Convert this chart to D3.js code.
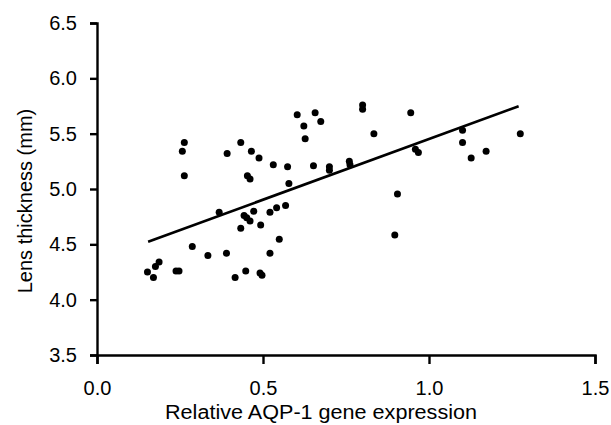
<!DOCTYPE html>
<html>
<head>
<meta charset="utf-8">
<script src="https://cdn.jsdelivr.net/npm/d3@7"></script>
<style>
  body { margin: 0; background: #fff; }
  svg { display: block; }
  .axis text { font-family: "Liberation Sans", Arial, sans-serif; font-size: 20px; fill: #000; }
  .axis path, .axis line { stroke: #000; stroke-width: 2.4px; }
  .label { font-family: "Liberation Sans", Arial, sans-serif; font-size: 20px; fill: #000; }
</style>
</head>
<body>
<svg id="chart" width="611" height="425"></svg>
<script>
// AQP-1 expression (x) vs lens thickness in mm (y)
const expression = [0.152, 0.170, 0.176, 0.187, 0.238, 0.247, 0.257, 0.263, 0.263, 0.287,
  0.334, 0.368, 0.390, 0.392, 0.416, 0.433, 0.433, 0.443, 0.451, 0.448,
  0.453, 0.461, 0.461, 0.465, 0.472, 0.488, 0.491, 0.497, 0.493, 0.521,
  0.521, 0.531, 0.541, 0.549, 0.568, 0.574, 0.578, 0.603, 0.623, 0.627,
  0.652, 0.657, 0.674, 0.700, 0.700, 0.760, 0.762, 0.800, 0.800, 0.834,
  0.897, 0.905, 0.945, 0.959, 0.968, 1.101, 1.101, 1.127, 1.172, 1.275];
const thickness = [4.25, 4.20, 4.30, 4.34, 4.26, 4.26, 5.34, 5.42, 5.12, 4.48,
  4.40, 4.79, 4.42, 5.32, 4.20, 5.42, 4.645, 4.76, 4.74, 4.26,
  5.12, 5.09, 4.71, 5.34, 4.80, 5.28, 4.24, 4.22, 4.675, 4.42,
  4.79, 5.22, 4.83, 4.545, 4.85, 5.20, 5.05, 5.67, 5.57, 5.455,
  5.21, 5.69, 5.61, 5.20, 5.17, 5.25, 5.22, 5.76, 5.72, 5.50,
  4.585, 4.955, 5.69, 5.36, 5.33, 5.53, 5.42, 5.28, 5.34, 5.50];

// regression line as drawn
const fitX = [0.154, 1.27];
const fitY = [4.524, 5.747];

const xTicks = [0.0, 0.5, 1.0, 1.5];
const yTicks = [3.5, 4.0, 4.5, 5.0, 5.5, 6.0, 6.5];

const margin = {top: 23, right: 16, bottom: 70, left: 97};
const width = 611 - margin.left - margin.right;
const height = 425 - margin.top - margin.bottom;

const svg = d3.select("#chart");
const g = svg.append("g").attr("transform", `translate(${margin.left},${margin.top})`);

const x = d3.scaleLinear().domain([0, 1.5]).range([0, width]);
const y = d3.scaleLinear().domain([3.5, 6.5]).range([height, 0]);

// axes
g.append("g")
  .attr("class", "axis")
  .attr("transform", `translate(0,${height})`)
  .call(d3.axisBottom(x).tickValues(xTicks).tickFormat(d3.format(".1f")).tickSizeOuter(0).tickSize(9).tickPadding(17));

g.append("g")
  .attr("class", "axis")
  .call(d3.axisLeft(y).tickValues(yTicks).tickFormat(d3.format(".1f")).tickSizeOuter(0).tickSize(7).tickPadding(13));

// fitted line
g.append("line")
  .attr("x1", x(fitX[0])).attr("y1", y(fitY[0]))
  .attr("x2", x(fitX[1])).attr("y2", y(fitY[1]))
  .attr("stroke", "#000")
  .attr("stroke-width", 2.6);

// points
const pts = expression.map((v, i) => ({x: v, y: thickness[i]}));
g.selectAll("circle.pt")
  .data(pts)
  .enter().append("circle")
  .attr("class", "pt")
  .attr("cx", d => x(d.x))
  .attr("cy", d => y(d.y))
  .attr("r", 3.5)
  .attr("fill", "#000");

// axis titles
svg.append("text")
  .attr("class", "label")
  .attr("x", 321)
  .attr("y", 419)
  .attr("text-anchor", "middle")
  .attr("textLength", 312)
  .attr("lengthAdjust", "spacingAndGlyphs")
  .text("Relative AQP-1 gene expression");

svg.append("text")
  .attr("class", "label")
  .attr("transform", `translate(32,201) rotate(-90)`)
  .attr("text-anchor", "middle")
  .text("Lens thickness (mm)");
</script>
</body>
</html>
